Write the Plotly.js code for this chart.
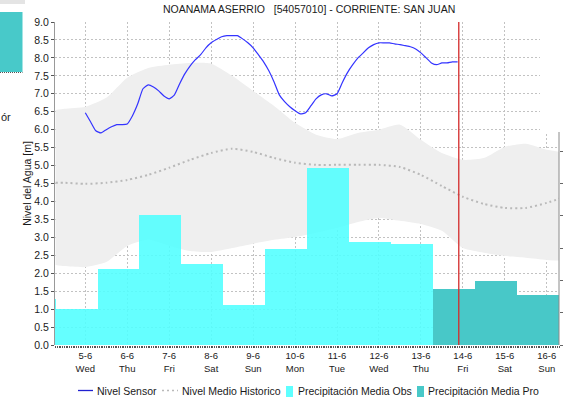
<!DOCTYPE html>
<html><head><meta charset="utf-8">
<script src="https://cdn.plot.ly/plotly-3.0.1.min.js"></script>
<style>html,body{margin:0;padding:0;background:#fff}#chart{width:564px;height:404px}</style>
</head><body><div id="chart"></div>
<script>
const chartTitle = 'NOANAMA ASERRIO\u00a0\u00a0\u00a0[54057010] - CORRIENTE: SAN JUAN';
const yTitle = 'Nivel del Agua [m]';
const legendNames = ['Nivel Sensor', 'Nivel Medio Historico', 'Precipitación Media Obs', 'Precipitación Media Pro'];

const dayTicks = ['2024-06-05','2024-06-06','2024-06-07','2024-06-08','2024-06-09','2024-06-10',
  '2024-06-11','2024-06-12','2024-06-13','2024-06-14','2024-06-15','2024-06-16'];
const dayLabels = ['5-6<br>Wed','6-6<br>Thu','7-6<br>Fri','8-6<br>Sat','9-6<br>Sun','10-6<br>Mon',
  '11-6<br>Tue','12-6<br>Wed','13-6<br>Thu','14-6<br>Fri','15-6<br>Sat','16-6<br>Sun'];
const xRange = ['2024-06-04 06:40', '2024-06-16 07:00'];
const nowTime = '2024-06-13 21:40';
const precipTicks = [0,1,2,3,4,5,6];

// Precipitation (daily, 07:00 -> 07:00), right-axis units
const obsStart = ['2024-06-03 07:00','2024-06-04 07:00','2024-06-05 07:00','2024-06-06 07:00','2024-06-07 07:00',
  '2024-06-08 07:00','2024-06-09 07:00','2024-06-10 07:00','2024-06-11 07:00','2024-06-12 07:00'];
const obsPrecip = [1.42, 1.11, 2.35, 4.03, 2.50, 1.24, 2.97, 5.48, 3.20, 3.12];
const proStart = ['2024-06-13 07:00','2024-06-14 07:00','2024-06-15 07:00'];
const proPrecip = [1.73, 1.99, 1.56];

// Historical envelope and mean
const histTimes = ['2024-06-04 07:00','2024-06-04 12:00','2024-06-05 00:00','2024-06-05 12:00','2024-06-06 00:00',
  '2024-06-06 12:00','2024-06-07 00:00','2024-06-07 12:00','2024-06-08 00:00','2024-06-08 12:00','2024-06-09 00:00',
  '2024-06-09 12:00','2024-06-10 00:00','2024-06-10 12:00','2024-06-11 00:00','2024-06-11 12:00','2024-06-12 00:00',
  '2024-06-12 12:00','2024-06-13 00:00','2024-06-13 12:00','2024-06-14 00:00','2024-06-14 12:00','2024-06-15 00:00',
  '2024-06-15 12:00','2024-06-16 00:00','2024-06-16 12:00'];
const histMax = [6.55,6.58,6.64,6.89,7.45,7.72,7.81,7.86,7.84,7.50,7.08,6.66,6.19,5.86,5.74,5.91,6.00,6.14,5.72,5.35,5.16,5.21,5.52,5.61,5.44,5.35];
const histMin = [2.23,2.20,2.17,2.31,2.76,2.93,2.76,2.62,2.59,2.70,2.82,2.93,3.01,3.12,3.26,3.43,3.54,3.46,3.37,3.18,2.70,2.57,2.48,2.43,2.37,2.34];
const histMean = [4.52,4.52,4.49,4.52,4.60,4.74,4.94,5.16,5.35,5.47,5.38,5.21,5.08,5.02,5.02,5.02,5.02,4.96,4.74,4.43,4.13,3.93,3.82,3.82,3.96,4.16];

// Sensor level (every 3 h)
const sensorTimes = [
 '2024-06-05 00:00','2024-06-05 03:00','2024-06-05 06:00','2024-06-05 09:00','2024-06-05 12:00','2024-06-05 15:00','2024-06-05 18:00','2024-06-05 21:00',
 '2024-06-06 00:00','2024-06-06 03:00','2024-06-06 06:00','2024-06-06 09:00','2024-06-06 12:00','2024-06-06 15:00','2024-06-06 18:00','2024-06-06 21:00',
 '2024-06-07 00:00','2024-06-07 03:00','2024-06-07 06:00','2024-06-07 09:00','2024-06-07 12:00','2024-06-07 15:00','2024-06-07 18:00','2024-06-07 21:00',
 '2024-06-08 00:00','2024-06-08 03:00','2024-06-08 06:00','2024-06-08 09:00','2024-06-08 12:00','2024-06-08 15:00','2024-06-08 18:00','2024-06-08 21:00',
 '2024-06-09 00:00','2024-06-09 03:00','2024-06-09 06:00','2024-06-09 09:00','2024-06-09 12:00','2024-06-09 15:00','2024-06-09 18:00','2024-06-09 21:00',
 '2024-06-10 00:00','2024-06-10 03:00','2024-06-10 06:00','2024-06-10 09:00','2024-06-10 12:00','2024-06-10 15:00','2024-06-10 18:00','2024-06-10 21:00',
 '2024-06-11 00:00','2024-06-11 03:00','2024-06-11 06:00','2024-06-11 09:00','2024-06-11 12:00','2024-06-11 15:00','2024-06-11 18:00','2024-06-11 21:00',
 '2024-06-12 00:00','2024-06-12 03:00','2024-06-12 06:00','2024-06-12 09:00','2024-06-12 12:00','2024-06-12 15:00','2024-06-12 18:00','2024-06-12 21:00',
 '2024-06-13 00:00','2024-06-13 03:00','2024-06-13 06:00','2024-06-13 09:00','2024-06-13 12:00','2024-06-13 15:00','2024-06-13 18:00','2024-06-13 21:00'];
const sensorLevel = [
 6.47,6.22,5.97,5.91,6.00,6.08,6.14,6.14,
 6.16,6.39,6.72,7.14,7.25,7.19,7.08,6.94,
 6.86,6.97,7.28,7.56,7.78,7.95,8.09,8.28,
 8.42,8.51,8.59,8.62,8.62,8.62,8.53,8.42,
 8.28,8.09,7.89,7.64,7.33,6.97,6.78,6.64,
 6.53,6.44,6.47,6.66,6.86,6.97,7.00,6.94,
 7.00,7.31,7.59,7.81,8.00,8.14,8.28,8.37,
 8.42,8.42,8.42,8.39,8.37,8.34,8.31,8.25,
 8.14,8.00,7.86,7.81,7.86,7.86,7.89,7.89];

const C = {obs:'rgba(80,255,255,0.88)', obsKey:'rgb(94,255,255)', pro:'rgb(72,200,200)', sensor:'rgb(52,52,255)', mean:'#b9b9b9',
  band:'#efefef', grid:'#c2c2c2', text:'#1a1a1a', now:'#d42a2a'};
const DAY = 86400000;

const traces = [
  // base subplot (level, left): historical envelope, drawn below the bars
  {type:'scatter', mode:'lines', x:histTimes, y:histMax, line:{width:0, shape:'spline', smoothing:0.6}, yaxis:'y', hoverinfo:'skip', showlegend:false},
  {type:'scatter', mode:'lines', x:histTimes, y:histMin, line:{width:0, shape:'spline', smoothing:0.6}, fill:'tonexty', fillcolor:C.band, yaxis:'y', hoverinfo:'skip', showlegend:false},
  // precipitation on right axis
  {type:'bar', x:obsStart, y:obsPrecip, width:DAY, offset:0, marker:{color:C.obs, line:{width:0}}, name:legendNames[2], yaxis:'y2', hoverinfo:'skip'},
  {type:'bar', x:proStart, y:proPrecip, width:DAY, offset:0, marker:{color:C.pro, line:{width:0}}, name:legendNames[3], yaxis:'y2', hoverinfo:'skip'},
  // level lines on top
  {type:'scatter', mode:'lines', x:histTimes, y:histMean, line:{color:C.mean, width:2, dash:'2px,3px', shape:'spline', smoothing:0.6}, name:legendNames[1], yaxis:'y3'},
  {type:'scatter', mode:'lines', x:sensorTimes, y:sensorLevel, line:{color:C.sensor, width:1.2, shape:'spline', smoothing:0.5}, name:legendNames[0], yaxis:'y3'}
];

// pixel helpers for layout-only decorations (plot area: x 55..559, y 22..345)
const px = v => (v - 55) / 504;
const py = v => (345 - v) / 323;

const legY = 390.5;
const shapes = [
  {type:'line', xref:'x', yref:'paper', x0:nowTime, x1:nowTime, y0:0, y1:1, line:{color:C.now, width:1.3}, layer:'above'},
  {type:'rect', xref:'paper', yref:'paper', x0:px(540), x1:px(566), y0:py(132), y1:py(-2), fillcolor:'#fff', line:{width:0}, layer:'above'},
  {type:'line', xref:'paper', yref:'paper', x0:1, x1:1, y0:0, y1:py(132), line:{color:'#8a8a8a', width:1}, layer:'above'},
  // fragment of neighbouring panel at the left edge
  {type:'rect', xref:'paper', yref:'paper', x0:px(0), x1:px(25), y0:py(4), y1:py(0), fillcolor:'#e4e4e4', line:{width:0}, layer:'above'},
  {type:'rect', xref:'paper', yref:'paper', x0:px(0), x1:px(22.5), y0:py(72), y1:py(12), fillcolor:'#48c9c9', line:{width:0}, layer:'above'},
  {type:'line', xref:'paper', yref:'paper', x0:px(0), x1:px(22.5), y0:py(72.5), y1:py(72.5), line:{color:'#555', width:1, dash:'1px,1px'}, layer:'above'},
  // legend samples
  {type:'line', xref:'paper', yref:'paper', x0:px(78), x1:px(93), y0:py(legY), y1:py(legY), line:{color:'#2020d0', width:1.3}},
  {type:'line', xref:'paper', yref:'paper', x0:px(162), x1:px(178), y0:py(legY), y1:py(legY), line:{color:C.mean, width:1.5, dash:'2px,3px'}},
  {type:'rect', xref:'paper', yref:'paper', x0:px(286), x1:px(293), y0:py(397), y1:py(386), fillcolor:C.obsKey, line:{width:0}},
  {type:'rect', xref:'paper', yref:'paper', x0:px(417), x1:px(424), y0:py(397), y1:py(386), fillcolor:C.pro, line:{width:0}}
];
const legFont = {size:10.5, color:C.text};
const annotations = [
  {xref:'paper', yref:'paper', x:px(95), y:py(legY), text:legendNames[0], showarrow:false, xanchor:'left', yanchor:'middle', font:legFont},
  {xref:'paper', yref:'paper', x:px(180), y:py(legY), text:legendNames[1], showarrow:false, xanchor:'left', yanchor:'middle', font:legFont},
  {xref:'paper', yref:'paper', x:px(296), y:py(legY), text:legendNames[2], showarrow:false, xanchor:'left', yanchor:'middle', font:legFont},
  {xref:'paper', yref:'paper', x:px(426), y:py(legY), text:legendNames[3], showarrow:false, xanchor:'left', yanchor:'middle', font:legFont},
  {xref:'paper', yref:'paper', x:px(-1), y:py(117), text:'ór', showarrow:false, xanchor:'left', yanchor:'middle', font:{size:11, color:C.text}}
];

const layout = {
  width:564, height:404,
  margin:{l:55, r:5, t:22, b:59, pad:0},
  paper_bgcolor:'#fff', plot_bgcolor:'#fff',
  font:{family:'Arial, "Liberation Sans", sans-serif', size:11, color:C.text},
  title:{text:chartTitle, x:0.548, xanchor:'center', xref:'container', y:0.977, yref:'container', yanchor:'middle', font:{size:10.5, color:C.text}},
  showlegend:false,
  bargap:0,
  xaxis:{type:'date', range:xRange, tickmode:'array', tickvals:dayTicks, ticktext:dayLabels,
    ticks:'outside', ticklen:2, tickcolor:'#444', tickfont:{size:9.5}, showgrid:true, gridcolor:C.grid, griddash:'2px,2px',
    showline:false, zeroline:false, fixedrange:true,
    minor:{dtick:3600000, ticks:'outside', ticklen:2, tickcolor:'#555', showgrid:false}},
  yaxis:{side:'left', range:[0,9], tickmode:'linear', tick0:0, dtick:0.5, tickformat:'.1f',
    ticks:'outside', ticklen:3, tickcolor:'#555', showline:true, linecolor:'#999', linewidth:1,
    showgrid:true, gridcolor:C.grid, griddash:'2px,2px', zeroline:false, fixedrange:true,
    tickfont:{size:10.5}, title:{text:yTitle, font:{size:10.5}, standoff:0}},
  yaxis2:{overlaying:'y', side:'right', range:[0,10], tickmode:'array', tickvals:precipTicks, showticklabels:false,
    ticks:'outside', ticklen:3, tickcolor:'#666', showgrid:false, zeroline:false, showline:false, fixedrange:true},
  yaxis3:{overlaying:'y', side:'left', range:[0,9], visible:false, showgrid:false, zeroline:false, fixedrange:true},
  shapes:shapes,
  annotations:annotations
};

Plotly.newPlot('chart', traces, layout, {staticPlot:true, displayModeBar:false});
</script></body></html>
